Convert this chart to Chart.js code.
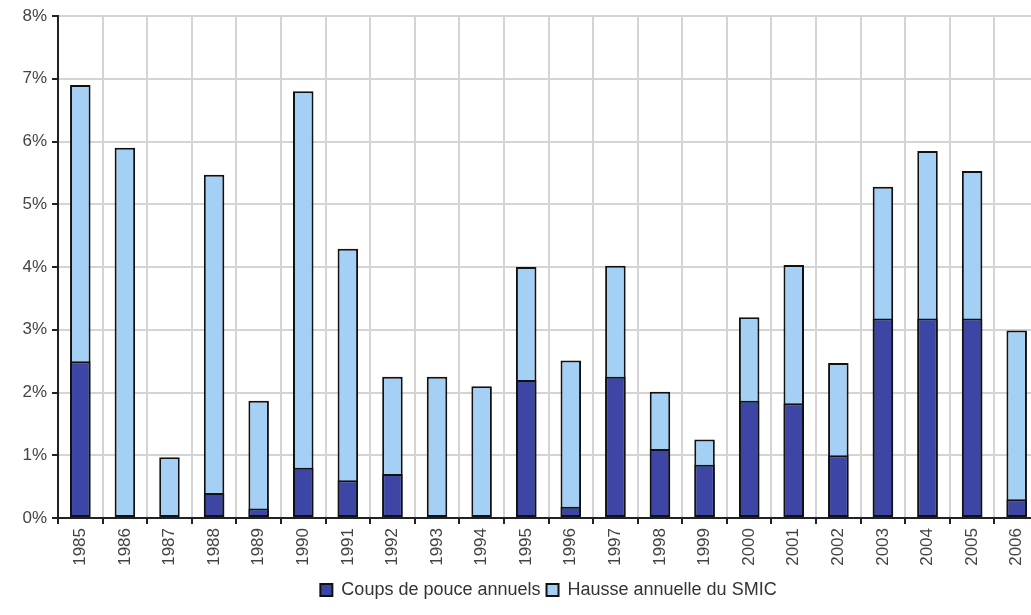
<!DOCTYPE html>
<html>
<head>
<meta charset="utf-8">
<script src="https://cdn.jsdelivr.net/npm/chart.js@4"></script>
<style>
  html, body { margin: 0; padding: 0; background: #fff; overflow: hidden; }
  #wrap { width: 1031px; height: 615px; overflow: hidden; }
</style>
</head>
<body>
<div id="wrap"><canvas id="smicchart" width="1045" height="615"></canvas></div>
<script>
var years = ['1985', '1986', '1987', '1988', '1989', '1990', '1991', '1992', '1993', '1994', '1995',
             '1996', '1997', '1998', '1999', '2000', '2001', '2002', '2003', '2004', '2005', '2006'];
// coups de pouce (part of the yearly rise), in %; null = no coup de pouce that year
var coupsDePouce = [2.5, null, null, 0.4, 0.15, 0.8, 0.6, 0.7, null, null, 2.2,
                    0.18, 2.25, 1.1, 0.85, 1.87, 1.83, 1.0, 3.18, 3.18, 3.18, 0.3];
// total yearly rise of the SMIC, in %
var hausseSmic = [6.9, 5.9, 0.97, 5.47, 1.87, 6.8, 4.29, 2.25, 2.25, 2.1, 4.0,
                  2.51, 4.02, 2.01, 1.25, 3.2, 4.03, 2.47, 5.28, 5.85, 5.53, 2.99];
var yTicks = [0, 1, 2, 3, 4, 5, 6, 7, 8];

Chart.defaults.font.family = '"Liberation Sans", Arial, sans-serif';
Chart.defaults.color = '#444';

var ctx = document.getElementById('smicchart').getContext('2d');
var smicChart = new Chart(ctx, {
    type: 'bar',
    data: {
        labels: years,
        datasets: [{
            label: 'Coups de pouce annuels',
            data: coupsDePouce,
            backgroundColor: '#3d45a5',
            borderColor: '#111',
            borderWidth: 2,
            borderSkipped: false
        }, {
            label: 'Hausse annuelle du SMIC',
            data: hausseSmic,
            backgroundColor: '#a4d0f6',
            borderColor: '#111',
            borderWidth: 2,
            borderSkipped: false
        }]
    },
    options: {
        responsive: false,
        animation: false,
        categoryPercentage: 1,
        barPercentage: 0.46,
        layout: { padding: { top: 16, right: 6, left: 0, bottom: 6 } },
        scales: {
            x: {
                stacked: true, // bars overlap, dark one in front
                grid: { offset: true, color: '#d4d4d4', lineWidth: 2, tickColor: '#222', tickLength: 6 },
                border: { color: '#222', width: 2 },
                ticks: { minRotation: 90, maxRotation: 90, font: { size: 17 }, padding: 4 },
                afterFit: function(scale) { scale.height = 57; }
            },
            y: {
                stacked: false,
                min: 0,
                max: 8,
                afterBuildTicks: function(scale) {
                    scale.ticks = yTicks.map(function(v) { return { value: v }; });
                },
                grid: { color: '#d4d4d4', lineWidth: 2, tickColor: '#222', tickLength: 6 },
                border: { color: '#222', width: 2 },
                ticks: {
                    font: { size: 17 },
                    padding: 5,
                    callback: function(v) { return v + '%'; }
                },
                afterFit: function(scale) { scale.width = 58; }
            }
        },
        plugins: {
            legend: {
                position: 'bottom',
                fullSize: false,
                labels: {
                    boxWidth: 12,
                    boxHeight: 12,
                    padding: 6,
                    color: '#333',
                    font: { size: 18 }
                }
            },
            tooltip: { enabled: true }
        }
    }
});
</script>
</body>
</html>
